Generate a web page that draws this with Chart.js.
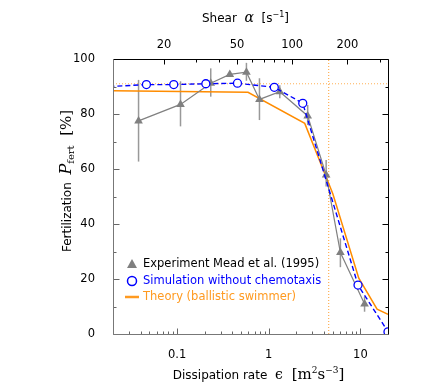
<!DOCTYPE html>
<html>
<head>
<meta charset="utf-8">
<script src="https://cdn.jsdelivr.net/npm/chart.js@4.4.0/dist/chart.umd.min.js"></script>
<style>
body { margin: 0; background: #fff; }
</style>
</head>
<body>
<canvas id="fertChart" width="447" height="391"></canvas>
<script>
// Experiment (Mead et al. 1995): dissipation rate, fertilization, error bar ends
var expEps = [0.038, 0.109, 0.233, 0.376, 0.571, 0.792, 1.32, 2.66, 4.23, 6.05, 11.1];
var expFert = [77.5, 83.5, 91.2, 94.4, 95.2, 85.3, 88.1, 79.3, 57.8, 29.6, 10.9];
var expLow = [62.7, 75.5, 86.3, 93.6, 92.1, 77.8, 85.7, 76.0, 53.6, 24.3, 8.1];
var expHigh = [92.4, 91.9, 96.6, 95.2, 98.6, 93.0, 90.5, 83.3, 63.3, 34.8, 13.6];

// Simulation without chemotaxis
var simEps = [0.01, 0.0463, 0.092, 0.206, 0.456, 1.15, 2.35, 9.42, 20];
var simFert = [89.5, 90.7, 90.7, 91.0, 91.2, 89.7, 83.9, 17.8, 0.8];

// Theory (ballistic swimmer)
var theoryEps = [0.02, 0.594, 2.47, 5.0, 9.6, 15.2, 20];
var theoryFert = [88.5, 87.9, 76.6, 51.0, 20.3, 9.0, 7.2];

// guide lines
var plateauFert = 91.0;
var halfEps = 4.51;

// axes
var epsMin = 0.02, epsMax = 20;
var epsLabels = [0.1, 1, 10];
var fertLabels = [0, 20, 40, 60, 80, 100];
var shearK = 74.5; // alpha = shearK * sqrt(eps)
var alphaLabels = [20, 50, 100, 200];
var alphaMinor = [30, 40, 60, 70, 80, 90, 300];

var sansFont = "'DejaVu Sans', sans-serif";
var serifFont = "'DejaVu Serif', serif";

function pts(xs, ys) {
	return xs.map(function (x, i) { return { x: x, y: ys[i] }; });
}

// Error bars under the experiment points
var errorBars = {
	id: 'errorBars',
	beforeDatasetsDraw: function (chart) {
		var ctx = chart.ctx, xs = chart.scales.x, ys = chart.scales.y;
		ctx.save();
		ctx.strokeStyle = '#999';
		ctx.lineWidth = 1.5;
		for (var i = 0; i < expEps.length; i++) {
			var px = xs.getPixelForValue(expEps[i]);
			ctx.beginPath();
			ctx.moveTo(px, ys.getPixelForValue(expLow[i]));
			ctx.lineTo(px, ys.getPixelForValue(expHigh[i]));
			ctx.stroke();
		}
		ctx.restore();
	}
};

// Frame with inward ticks on all four sides
var frame = {
	id: 'frame',
	afterDraw: function (chart) {
		var ctx = chart.ctx, a = chart.chartArea;
		var xs = chart.scales.x, xt = chart.scales.x2, ys = chart.scales.y;
		ctx.save();
		ctx.lineWidth = 1;
		function line(x1, y1, x2, y2, c) {
			ctx.strokeStyle = c;
			ctx.beginPath();
			ctx.moveTo(x1, y1);
			ctx.lineTo(x2, y2);
			ctx.stroke();
		}
		var L = Math.round(a.left) + 0.5, R = Math.round(a.right) + 0.5;
		var T = Math.round(a.top) + 0.5, B = Math.round(a.bottom) + 0.5;
		// bottom ticks (eps)
		for (var d = 0.01; d <= 10; d *= 10) {
			for (var m = 1; m <= 9; m++) {
				var v = d * m;
				if (v < epsMin || v > epsMax) continue;
				var px = Math.round(xs.getPixelForValue(v)) + 0.5;
				line(px, B, px, B - (m === 1 ? 6 : 3), '#666');
			}
		}
		// top ticks (alpha)
		alphaLabels.forEach(function (v) {
			var px = Math.round(xt.getPixelForValue(v)) + 0.5;
			line(px, T, px, T + 5, '#000');
		});
		alphaMinor.forEach(function (v) {
			var px = Math.round(xt.getPixelForValue(v)) + 0.5;
			line(px, T, px, T + 3, '#000');
		});
		// left and right ticks
		for (var f = 0; f <= 100; f += 10) {
			var py = Math.round(ys.getPixelForValue(f)) + 0.5;
			var len = f % 20 === 0 ? 6 : 3;
			line(L, py, L + len, py, '#666');
			line(R, py, R - len, py, '#000');
		}
		line(L, T, R, T, '#000');
		line(R, T, R, B, '#000');
		line(L, T, L, B, '#777');
		line(L, B, R, B, '#777');
		ctx.restore();
	}
};

// Text made of runs with different fonts
function drawRuns(ctx, runs, cx, cy) {
	var w = 0;
	runs.forEach(function (r) { ctx.font = r.font; w += ctx.measureText(r.t).width; });
	var x = cx - w / 2;
	runs.forEach(function (r) {
		ctx.font = r.font;
		ctx.fillStyle = r.c || '#000';
		ctx.fillText(r.t, x, cy + (r.dy || 0));
		x += ctx.measureText(r.t).width;
	});
}

var titles = {
	id: 'titles',
	afterDraw: function (chart) {
		var ctx = chart.ctx, a = chart.chartArea;
		ctx.save();
		ctx.textBaseline = 'alphabetic';
		ctx.textAlign = 'left';
		drawRuns(ctx, [
			{ t: 'Dissipation rate  ', font: '12px ' + sansFont },
			{ t: '\u03f5  ', font: '14px ' + serifFont },
			{ t: '[m', font: '15px ' + serifFont },
			{ t: '2', font: '9px ' + serifFont, dy: -6 },
			{ t: 's', font: '15px ' + serifFont },
			{ t: '\u22123', font: '9px ' + serifFont, dy: -6 },
			{ t: ']', font: '15px ' + serifFont }
		], (a.left + a.right) / 2 + 8, 379);
		drawRuns(ctx, [
			{ t: 'Shear  ', font: '12px ' + sansFont },
			{ t: '\u03b1', font: 'italic 14px ' + serifFont },
			{ t: '  [s', font: '12px ' + sansFont },
			{ t: '\u22121', font: '8px ' + sansFont, dy: -5 },
			{ t: ']', font: '12px ' + sansFont }
		], (a.left + a.right) / 2 - 5, 22);
		ctx.translate(71, 181);
		ctx.rotate(-Math.PI / 2);
		drawRuns(ctx, [
			{ t: 'Fertilization  ', font: '12px ' + sansFont },
			{ t: 'P', font: 'italic 16px ' + serifFont },
			{ t: 'fert', font: '10px ' + serifFont, dy: 3 },
			{ t: '  [%]', font: '15px ' + serifFont }
		], 0, 0);
		ctx.restore();
	}
};

// Legend inside the plot, lower left
var legendBox = {
	id: 'legendBox',
	afterDraw: function (chart) {
		var ctx = chart.ctx, a = chart.chartArea;
		var sx = a.left + 19, tx = a.left + 30;
		var rows = [a.bottom - 70, a.bottom - 53, a.bottom - 37];
		ctx.save();
		ctx.font = '11.5px ' + sansFont;
		ctx.textBaseline = 'middle';
		ctx.textAlign = 'left';
		for (var i = 0; i < 3; i++) {
			var ds = chart.data.datasets[i], y = rows[i];
			if (i === 0) {
				ctx.fillStyle = '#808080';
				ctx.beginPath();
				ctx.moveTo(sx, y - 5);
				ctx.lineTo(sx + 5, y + 4);
				ctx.lineTo(sx - 5, y + 4);
				ctx.closePath();
				ctx.fill();
			} else if (i === 1) {
				ctx.strokeStyle = 'blue';
				ctx.lineWidth = 1.5;
				ctx.beginPath();
				ctx.arc(sx, y, 4.5, 0, Math.PI * 2);
				ctx.stroke();
			} else {
				ctx.strokeStyle = '#ff9a20';
				ctx.lineWidth = 2.5;
				ctx.beginPath();
				ctx.moveTo(sx - 7, y);
				ctx.lineTo(sx + 7, y);
				ctx.stroke();
			}
			ctx.fillStyle = ds.labelColor;
			ctx.fillText(ds.label, tx, y);
		}
		ctx.restore();
	}
};

var chart = new Chart(document.getElementById('fertChart').getContext('2d'), {
	type: 'line',
	data: {
		datasets: [{
			label: 'Experiment Mead et al. (1995)',
			labelColor: '#000',
			data: pts(expEps, expFert),
			borderColor: '#808080',
			backgroundColor: '#808080',
			borderWidth: 1.2,
			pointStyle: 'triangle',
			pointRadius: 5,
			pointBorderWidth: 0,
			order: 2
		}, {
			label: 'Simulation without chemotaxis',
			labelColor: '#0000ff',
			data: pts(simEps, simFert),
			borderColor: '#0000ff',
			borderDash: [5, 3],
			borderWidth: 1.4,
			pointRadius: simEps.map(function (e) { return e < epsMin ? 0 : 4; }),
			pointBackgroundColor: '#fff',
			pointBorderColor: '#0000ff',
			pointBorderWidth: 1.3,
			order: 1
		}, {
			label: 'Theory (ballistic swimmer)',
			labelColor: '#ff9a20',
			data: pts(theoryEps, theoryFert),
			borderColor: '#ff8c00',
			borderWidth: 1.5,
			pointRadius: 0,
			order: 3
		}, {
			label: 'plateau',
			data: pts([epsMin, epsMax], [plateauFert, plateauFert]),
			borderColor: 'rgba(255,150,30,0.75)',
			borderWidth: 1,
			borderDash: [1, 2],
			pointRadius: 0,
			order: 5
		}, {
			label: 'half',
			data: pts([halfEps, halfEps], [0, 100]),
			borderColor: 'rgba(255,150,30,0.9)',
			borderWidth: 1,
			borderDash: [1, 2],
			pointRadius: 0,
			order: 5
		}]
	},
	options: {
		responsive: false,
		animation: false,
		layout: { padding: { left: 0, right: 59, top: 0, bottom: 0 } },
		plugins: { legend: { display: false }, tooltip: { enabled: false } },
		scales: {
			x: {
				type: 'logarithmic',
				position: 'bottom',
				min: epsMin,
				max: epsMax,
				grid: { display: false },
				border: { display: false },
				afterBuildTicks: function (s) { s.ticks = epsLabels.map(function (v) { return { value: v }; }); },
				afterFit: function (s) { s.height = 57; },
				ticks: {
					padding: 6,
					color: '#000',
					font: { family: sansFont, size: 11.5 },
					maxRotation: 0,
					callback: function (v) { return String(v); }
				}
			},
			x2: {
				type: 'logarithmic',
				position: 'top',
				min: shearK * Math.sqrt(epsMin),
				max: shearK * Math.sqrt(epsMax),
				grid: { display: false },
				border: { display: false },
				afterBuildTicks: function (s) { s.ticks = alphaLabels.map(function (v) { return { value: v }; }); },
				afterFit: function (s) { s.height = 59; },
				ticks: {
					padding: -1,
					color: '#000',
					font: { family: sansFont, size: 11.5 },
					maxRotation: 0,
					callback: function (v) { return String(v); }
				}
			},
			y: {
				min: 0,
				max: 100,
				grid: { display: false },
				border: { display: false },
				afterBuildTicks: function (s) { s.ticks = fertLabels.map(function (v) { return { value: v }; }); },
				afterFit: function (s) { s.width = 113; },
				ticks: {
					padding: 10,
					color: '#000',
					font: { family: sansFont, size: 11.5 }
				}
			}
		}
	},
	plugins: [errorBars, frame, titles, legendBox]
});
</script>
</body>
</html>
